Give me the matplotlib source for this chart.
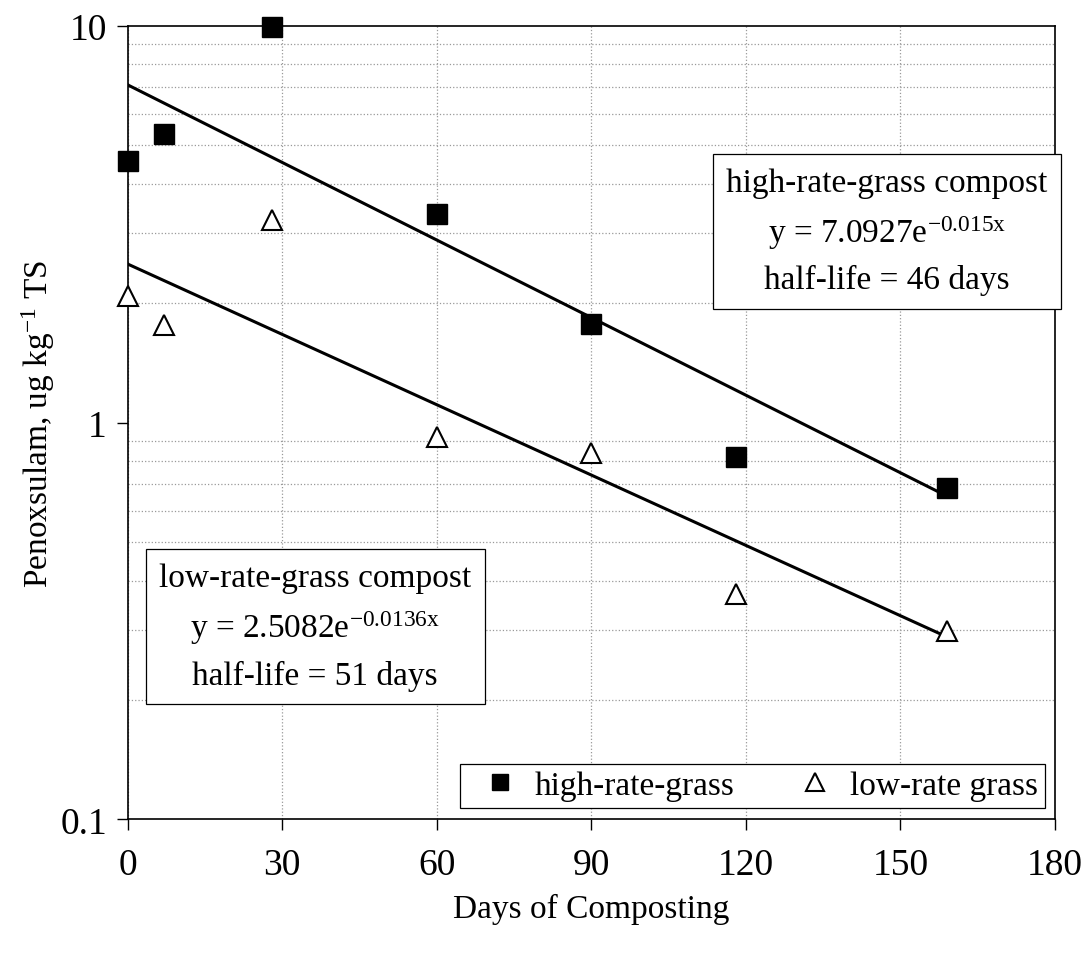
import numpy as np
import matplotlib
matplotlib.use("Agg")
import matplotlib.pyplot as plt
from matplotlib.ticker import FixedLocator, FuncFormatter, NullFormatter

plt.rcParams['font.family'] = ['Liberation Serif', 'DejaVu Serif']
plt.rcParams['mathtext.fontset'] = 'custom'
plt.rcParams['mathtext.rm'] = 'Liberation Serif'
plt.rcParams['mathtext.it'] = 'Liberation Serif:italic'

# sampling days
days = [0, 7, 28, 60, 90, 118, 159]
high_rate = [4.57, 5.35, 9.9, 3.36, 1.77, 0.82, 0.686]
low_rate = [2.08, 1.76, 3.23, 0.92, 0.84, 0.37, 0.298]

# exponential fits shown in the boxes
high_a, high_k = 7.0927, 0.015
low_a, low_k = 2.5082, 0.0136
fit_end = 159

x_ticks = [0, 30, 60, 90, 120, 150, 180]
y_ticks = [0.1, 1, 10]

fig = plt.figure(figsize=(10.83, 9.54), dpi=100)
ax = fig.add_axes([0.118, 0.140, 0.856, 0.832])

xf = np.linspace(0, fit_end, 200)
ax.plot(xf, high_a * np.exp(-high_k * xf), color='black', lw=2.2, zorder=3)
ax.plot(xf, low_a * np.exp(-low_k * xf), color='black', lw=2.2, zorder=3)

ax.plot(days, high_rate, ls='none', marker='s', ms=14, mfc='black', mec='black',
        label='high-rate-grass', zorder=4, clip_on=False)
ax.plot(days, low_rate, ls='none', marker='^', ms=15, mfc='white', mec='black',
        mew=1.5, label='low-rate grass', zorder=4, clip_on=False)

ax.set_yscale('log')
ax.set_xlim(0, 180)
ax.set_ylim(0.1, 10)
ax.xaxis.set_major_locator(FixedLocator(x_ticks))
ax.yaxis.set_major_locator(FixedLocator(y_ticks))
ax.yaxis.set_major_formatter(FuncFormatter(lambda v, p: '%g' % v))
ax.yaxis.set_minor_formatter(NullFormatter())

ax.grid(True, which='major', axis='x', ls=':', color='#999999', lw=0.9)
ax.grid(True, which='minor', axis='y', ls=':', color='#999999', lw=0.9)
ax.tick_params(axis='both', which='major', direction='out', length=8, width=1,
               labelsize=27)
ax.tick_params(axis='x', which='major', pad=12)
ax.tick_params(axis='y', which='major', pad=7)
ax.tick_params(axis='y', which='minor', length=0)
for s in ax.spines.values():
    s.set_linewidth(1.2)

ax.set_xlabel('Days of Composting', fontsize=24, labelpad=8)
ax.set_ylabel('Penoxsulam, ug kg$^{-1}$ TS', fontsize=24, labelpad=2)

box = dict(boxstyle='square,pad=0.4', fc='white', ec='black', lw=0.9)
ax.text(0.819, 0.741,
        'high-rate-grass compost\ny = 7.0927e$^{\\mathregular{-0.015x}}$\nhalf-life = 46 days',
        transform=ax.transAxes, ha='center', va='center', multialignment='center',
        fontsize=24, linespacing=1.55, bbox=box, zorder=5)
ax.text(0.202, 0.243,
        'low-rate-grass compost\ny = 2.5082e$^{\\mathregular{-0.0136x}}$\nhalf-life = 51 days',
        transform=ax.transAxes, ha='center', va='center', multialignment='center',
        fontsize=24, linespacing=1.55, bbox=box, zorder=5)

leg = ax.legend(loc='lower right', ncol=2, fontsize=24, frameon=True, fancybox=False,
                edgecolor='black', framealpha=1, borderpad=0.2, columnspacing=1.4,
                handletextpad=0.05, handlelength=2.0, borderaxespad=0, markerscale=0.85,
                bbox_to_anchor=(0.989, 0.015))
leg.get_frame().set_linewidth(0.9)

fig.savefig('out.png', dpi=100, facecolor='white')
